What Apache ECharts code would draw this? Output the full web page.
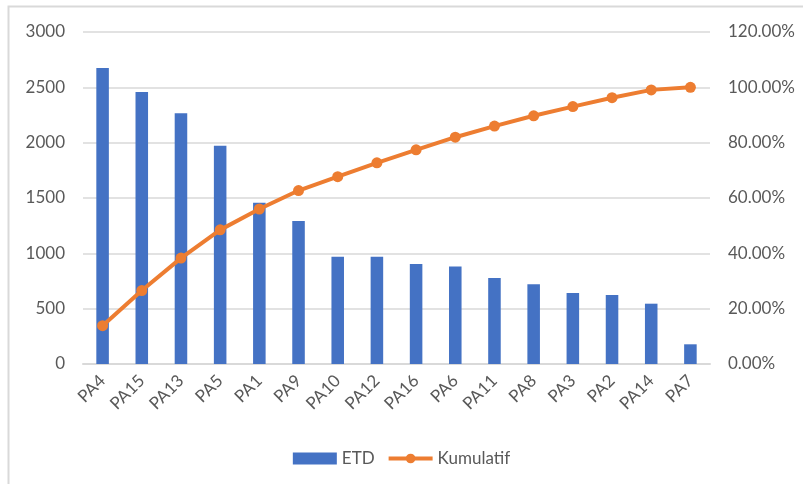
<!DOCTYPE html>
<html>
<head>
<meta charset="utf-8">
<script src="https://cdn.jsdelivr.net/npm/echarts@6/dist/echarts.min.js"></script>
<style>
  html, body { margin: 0; padding: 0; background: #fff; }
  #chart { width: 803px; height: 484px; }
</style>
</head>
<body>
<div id="chart"></div>
<script>
// data
var categories = ['PA4', 'PA15', 'PA13', 'PA5', 'PA1', 'PA9', 'PA10', 'PA12', 'PA16', 'PA6', 'PA11', 'PA8', 'PA3', 'PA2', 'PA14', 'PA7'];
var etdValues = [2674, 2457, 2265, 1972, 1457, 1292, 969, 969, 903, 882, 777, 720, 641, 623, 545, 178];
var kumulatifValues = [13.84, 26.55, 38.27, 48.48, 56.02, 62.70, 67.72, 72.73, 77.41, 81.97, 85.99, 89.72, 93.04, 96.26, 99.08, 100.00];
var leftTicks = { min: 0, max: 3000, interval: 500 };
var rightTicks = { min: 0, max: 120, interval: 20 };

var labelFont = {
    color: '#595959',
    fontFamily: 'Lato, "Open Sans", sans-serif',
    fontSize: 16
};

var myChart = echarts.init(document.getElementById('chart'));

var option = {
    backgroundColor: '#fff',
    animation: false,
    graphic: [{
        type: 'rect',
        shape: { x: 8.5, y: 6.5, width: 900, height: 600 },
        style: { fill: 'none', stroke: '#d9d9d9', lineWidth: 2 },
        silent: true
    }],
    grid: {
        left: 83,
        right: 93,
        top: 32,
        bottom: 120
    },
    legend: {
        bottom: 12,
        left: 'center',
        itemGap: 12,
        itemWidth: 44,
        itemHeight: 12,
        textStyle: Object.assign({}, labelFont, { fontSize: 17 }),
        data: [
            { name: 'ETD', icon: 'rect', itemStyle: { color: '#4472C4' } },
            { name: 'Kumulatif', lineStyle: { width: 4 } }
        ]
    },
    xAxis: {
        type: 'category',
        data: categories,
        axisLine: { lineStyle: { color: '#d9d9d9', width: 2 } },
        axisTick: { show: false },
        axisLabel: Object.assign({}, labelFont, { fontSize: 17, rotate: 45, margin: 14, interval: 0 })
    },
    yAxis: [
        {
            type: 'value',
            min: leftTicks.min,
            max: leftTicks.max,
            interval: leftTicks.interval,
            axisLine: { show: false },
            axisTick: { show: false },
            axisLabel: Object.assign({}, labelFont, {
                fontSize: 17,
                margin: 18,
                formatter: function (v) { return String(v); }
            }),
            splitLine: { lineStyle: { color: '#d9d9d9', width: 1.5 } }
        },
        {
            type: 'value',
            min: rightTicks.min,
            max: rightTicks.max,
            interval: rightTicks.interval,
            axisLine: { show: false },
            axisTick: { show: false },
            splitLine: { show: false },
            axisLabel: Object.assign({}, labelFont, {
                fontSize: 17,
                margin: 18,
                formatter: function (v) { return v.toFixed(2) + '%'; }
            })
        }
    ],
    series: [
        {
            name: 'ETD',
            type: 'bar',
            data: etdValues,
            barWidth: '32%',
            itemStyle: { color: '#4472C4' }
        },
        {
            name: 'Kumulatif',
            type: 'line',
            yAxisIndex: 1,
            data: kumulatifValues,
            symbol: 'circle',
            symbolSize: 11,
            lineStyle: { color: '#ED7D31', width: 4 },
            itemStyle: { color: '#ED7D31' }
        }
    ]
};

myChart.setOption(option);
</script>
</body>
</html>
